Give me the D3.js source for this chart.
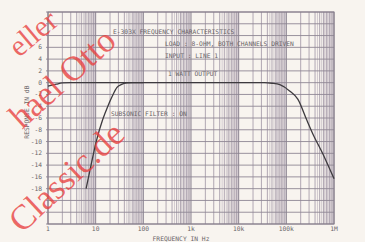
<!DOCTYPE html>
<html>
<head>
<meta charset="utf-8">
<script src="https://cdn.jsdelivr.net/npm/d3@7"></script>
<style>
  body { margin: 0; background: #f8f4ef; }
  svg { display: block; }
  .lbl { font-family: "DejaVu Sans Mono", monospace; font-size: 6.3px; fill: #6a6468; }
</style>
</head>
<body>
<svg id="chart" width="365" height="242"></svg>
<script>
// x ticks (Hz) and their printed labels
var freqTicks = [1, 10, 100, 1e3, 1e4, 1e5, 1e6];
var freqLabels = ["1", "10", "100", "1k", "10k", "100k", "1M"];
var dbLabels = [6, 4, 2, 0, -2, -4, -6, -8, -10, -12, -14, -16, -18];

// subsonic filter off
var offFreq = [1, 1.5, 2, 3, 5, 10, 100, 1e3, 1e4, 35000, 50000, 73000, 117000, 174000, 270000, 360000, 585000, 1e6];
var offDb   = [-0.6, -0.25, -0.05, 0, 0, 0, 0, 0, 0, 0, -0.1, -0.35, -1.4, -2.8, -6.4, -8.7, -12.1, -16.3];
// subsonic filter on (low end only, merges with the other above ~60 Hz)
var onFreq = [6.3, 8, 9.5, 10.5, 14, 18, 22, 28, 35, 45, 60, 100];
var onDb   = [-18, -14, -11.2, -9.7, -6.3, -4, -2.4, -0.8, -0.3, -0.05, 0, 0];

var notes = [
  {t: "E-303X FREQUENCY CHARACTERISTICS", x: 113, y: 34},
  {t: "LOAD : 8-OHM, BOTH CHANNELS DRIVEN", x: 165, y: 46},
  {t: "INPUT : LINE 1", x: 165, y: 58},
  {t: "1 WATT OUTPUT", x: 168, y: 76},
  {t: "SUBSONIC FILTER : ON", x: 111, y: 116}
];

var margin = {top: 12, right: 31, bottom: 18, left: 48},
    width  = 365 - margin.left - margin.right,
    height = 242 - margin.top - margin.bottom;

var svg = d3.select("#chart");
var g = svg.append("g")
    .attr("transform", "translate(" + margin.left + "," + margin.top + ")");

var x = d3.scaleLog().domain([1, 1e6]).range([0, width]);
var y = d3.scaleLinear().domain([-24, 12]).range([height, 0]);

////////// grid //////////
var minor = [], band = [];
freqTicks.slice(0, -1).forEach(function(d) {
  for (var k = 2; k <= 9; k++) minor.push(d * k);
  [4.5, 5.5, 6.5, 7.5, 8.5, 9.5, 6.25, 7.25, 8.25, 9.25].forEach(function(k) { band.push(d * k); });
});

g.selectAll(".band").data(band).enter().append("line")
    .attr("x1", x).attr("x2", x).attr("y1", 0).attr("y2", height)
    .attr("stroke", "#c9c0c8").attr("stroke-width", 0.8);

g.selectAll(".minor").data(minor).enter().append("line")
    .attr("x1", x).attr("x2", x).attr("y1", 0).attr("y2", height)
    .attr("stroke", "#a89eab").attr("stroke-width", 0.9);

g.selectAll(".hgrid").data(d3.range(-24, 13, 2)).enter().append("line")
    .attr("x1", -2).attr("x2", width)
    .attr("y1", y).attr("y2", y)
    .attr("stroke", "#8f8794").attr("stroke-width", 0.9);

g.selectAll(".major").data(freqTicks).enter().append("line")
    .attr("x1", x).attr("x2", x).attr("y1", 0).attr("y2", height)
    .attr("stroke", "#8a8290").attr("stroke-width", 1);

g.append("rect")
    .attr("width", width).attr("height", height)
    .attr("fill", "none").attr("stroke", "#857d8a").attr("stroke-width", 1);

////////// axes labels //////////
g.selectAll(".xl").data(freqTicks).enter().append("text")
    .attr("class", "lbl")
    .attr("x", x).attr("y", height + 7)
    .attr("text-anchor", "middle")
    .text(function(d, i) { return freqLabels[i]; });

g.selectAll(".yl").data(dbLabels).enter().append("text")
    .attr("class", "lbl")
    .attr("x", -6).attr("y", function(d) { return y(d) + 2; })
    .attr("text-anchor", "end")
    .text(function(d) { return d; });

g.append("text").attr("class", "lbl")
    .attr("x", width / 2 - 10).attr("y", height + 17)
    .attr("text-anchor", "middle")
    .text("FREQUENCY IN Hz");

g.append("text").attr("class", "lbl")
    .attr("transform", "translate(-19," + (y(-5)) + ") rotate(-90)")
    .attr("text-anchor", "middle")
    .text("RESPONSE IN dB");

g.selectAll(".note").data(notes).enter().append("text")
    .attr("class", "lbl")
    .attr("x", function(d) { return d.x - margin.left; })
    .attr("y", function(d) { return d.y - margin.top; })
    .text(function(d) { return d.t; });

////////// curves //////////
var line = d3.line()
    .x(function(d) { return x(d[0]); })
    .y(function(d) { return y(d[1]); })
    .curve(d3.curveMonotoneX);

g.append("path")
    .datum(d3.zip(offFreq, offDb))
    .attr("d", line)
    .attr("fill", "none").attr("stroke", "#3d3a3e").attr("stroke-width", 1.3);

g.append("path")
    .datum(d3.zip(onFreq, onDb))
    .attr("d", line)
    .attr("fill", "none").attr("stroke", "#3d3a3e").attr("stroke-width", 1.3);

////////// watermark //////////
var wm = svg.append("g")
    .attr("font-family", "Liberation Serif, serif")
    .attr("fill", "#e8403f")
    .attr("fill-opacity", 0.78);

wm.append("text").attr("font-size", 30)
    .attr("transform", "translate(19,58) rotate(-40)").text("eller");
wm.append("text").attr("font-size", 35)
    .attr("transform", "translate(22,130) rotate(-42)").text("hael Otto");
wm.append("text").attr("font-size", 35)
    .attr("transform", "translate(22,234) rotate(-43)").text("Classic.de");
</script>
</body>
</html>
